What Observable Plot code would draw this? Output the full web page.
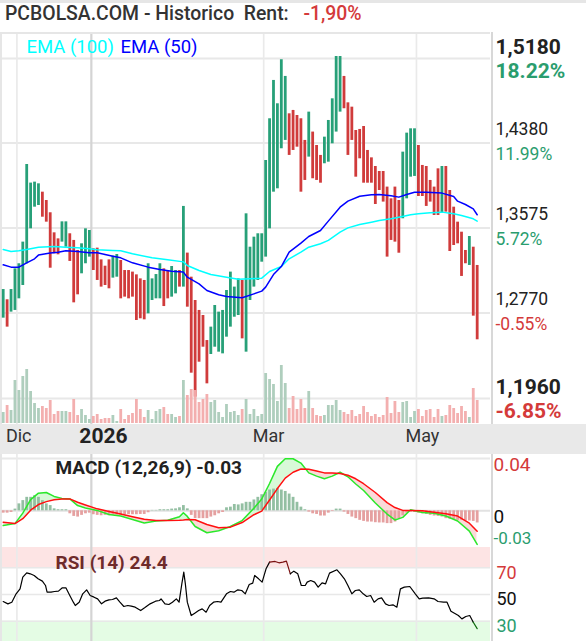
<!DOCTYPE html>
<html><head><meta charset="utf-8">
<script src="https://cdn.jsdelivr.net/npm/d3@7"></script>
<script src="https://cdn.jsdelivr.net/npm/@observablehq/plot@0.6"></script>
<style>
html,body{margin:0;padding:0;background:#fff;}
#root{position:relative;width:586px;height:641px;overflow:hidden;font-family:Roboto,sans-serif;background:#fff;}
#root svg{position:absolute;left:0;display:block;overflow:hidden;}
#title{position:absolute;left:5px;top:3px;font-size:19.4px;color:#333;white-space:pre;line-height:22px;font-weight:500;}
#title span{margin-left:5px;}
#topbar{position:absolute;left:0;top:0;width:586px;height:3px;background:#e6e6e6;}
</style></head><body><div id="root"><div id="topbar"></div><div id="title"></div></div>
<script>
// ---------- text ----------
const titleText = "PCBOLSA.COM - Historico  Rent:  ";
const rentText = "-1,90%";
const emaLabels = ["EMA (100)", "EMA (50)"];
const macdTitle = "MACD (12,26,9) -0.03";
const rsiTitle = "RSI (14) 24.4";

// ---------- price bars (one per session) ----------
const barHigh = [
1.2992,1.2895,1.2992,1.3188,1.3236,1.3441,1.4176,1.4000,1.4009,1.3993,
1.3914,1.3835,1.3719,1.3529,1.3472,1.3633,1.3633,1.3520,1.3457,1.3362,
1.3425,1.3567,1.3551,1.3378,1.3384,1.3273,1.3213,1.3273,1.3308,1.3324,
1.3267,1.3172,1.3172,1.3157,1.3131,1.3093,1.3078,1.3236,1.3093,1.3134,
1.3236,1.3188,1.3172,1.3210,1.3172,1.3172,1.3779,1.3337,1.3109,1.2888,
1.2794,1.2746,1.2509,1.2636,1.2841,1.2778,1.2794,1.2983,1.3157,1.3015,
1.3093,1.3078,1.3709,1.3393,1.3488,1.3520,1.3520,1.4214,1.4609,1.4972,
1.4751,1.5168,1.5010,1.4656,1.4688,1.4640,1.4609,1.4404,1.4672,1.4483,
1.4356,1.4262,1.4435,1.4593,1.4798,1.5199,1.5199,1.5010,1.4760,1.4719,
1.4498,1.4508,1.4536,1.4309,1.4239,1.4157,1.4110,1.4110,1.3962,1.3851,
1.3962,1.3835,1.4293,1.4473,1.4514,1.4514,1.4356,1.4167,1.4157,1.4025,
1.3962,1.4135,1.4157,1.4157,1.3930,1.3772,1.3630,1.3535,1.3362,1.3494,
1.3393,1.3220];
const barLow = [
1.2721,1.2636,1.2778,1.2794,1.2904,1.3030,1.3236,1.3567,1.3772,1.3788,
1.3677,1.3630,1.3194,1.3330,1.3321,1.3441,1.3393,1.3258,1.2866,1.2942,
1.3141,1.3236,1.3299,1.3172,1.3078,1.3015,1.3030,1.2999,1.3100,1.3109,
1.2904,1.2920,1.2904,1.2920,1.2699,1.2715,1.2705,1.2762,1.2888,1.2904,
1.2904,1.2831,1.2904,1.2920,1.2951,1.3015,1.3015,1.2825,1.2200,1.1973,
1.2304,1.2446,1.2099,1.2377,1.2446,1.2399,1.2383,1.2541,1.2636,1.2730,
1.2746,1.2525,1.2399,1.2888,1.3015,1.3078,1.3251,1.3299,1.3567,1.3914,
1.3946,1.4325,1.4404,1.4262,1.4309,1.4340,1.3914,1.4025,1.4246,1.4041,
1.4025,1.3999,1.4183,1.4198,1.4372,1.4483,1.4672,1.4704,1.4262,1.4404,
1.4056,1.4230,1.3999,1.3999,1.3999,1.3797,1.3930,1.3820,1.3299,1.3457,
1.3441,1.3336,1.3662,1.3851,1.4056,1.4063,1.3873,1.3873,1.3779,1.3820,
1.3693,1.3693,1.3715,1.3725,1.3352,1.3409,1.3425,1.3116,1.3236,1.3220,
1.2740,1.2516];
const barUp = [
1,0,1,1,1,1,1,1,1,1, 0,0,0,0,0,1,1,0,0,0, 1,1,1,0,0,0,0,0,1,1,
0,0,0,0,0,0,0,1,1,1, 1,0,0,1,1,0,1,0,0,0, 0,0,0,1,1,1,1,1,1,1,
1,0,1,1,1,1,1,1,1,1, 1,1,1,0,0,0,0,0,1,0, 0,0,1,1,1,1,1,0,0,0,
0,0,0,0,0,0,0,0,0,0, 0,0,1,1,1,1,0,0,0,0, 0,0,1,0,0,0,0,0,0,1,
0,0];
const volume = [
110,180,130,430,330,470,540,320,200,150, 170,150,230,90,120,120,120,110,240,80,
140,80,40,70,90,40,50,50,80,20, 140,40,80,100,240,140,60,130,40,120,
140,160,90,90,60,70,430,280,340,330, 210,240,290,210,230,110,60,190,110,120,
80,140,240,90,140,70,90,500,440,390, 220,580,400,150,270,140,240,150,320,150,
80,70,80,180,180,230,130,110,90,130, 70,90,170,110,70,90,60,80,260,100,
220,110,210,220,60,120,140,70,130,140, 60,140,70,80,180,150,100,170,120,60,
350,230];

// ---------- moving averages ----------
const ema100Idx = [0,2,4,6,9,13,16,19,22,24,28,30,33,38,42,46,47,50,53,57,60,66,68,71,73,76,78,81,83,86,88,91,94,96,99,101,104,106,109,112,115,117,120,121];
const ema100Val = [1.3371,1.3352,1.3359,1.3371,1.3393,1.3400,1.3393,1.3387,1.3378,1.3368,1.3362,1.3360,1.3330,1.3292,1.3273,1.3254,1.3220,1.3172,1.3134,1.3109,1.3090,1.3100,1.3163,1.3210,1.3283,1.3346,1.3393,1.3425,1.3457,1.3535,1.3576,1.3608,1.3630,1.3646,1.3662,1.3677,1.3700,1.3709,1.3718,1.3725,1.3709,1.3693,1.3662,1.3640];
const ema50Idx = [0,2,4,6,8,9,12,14,16,19,22,24,28,30,33,37,40,43,46,47,50,52,55,57,61,64,66,67,69,71,73,76,78,81,83,86,88,91,94,96,99,101,103,105,108,112,115,116,118,120,121];
const ema50Val = [1.3226,1.3204,1.3204,1.3245,1.3283,1.3318,1.3337,1.3346,1.3359,1.3352,1.3340,1.3340,1.3308,1.3292,1.3245,1.3204,1.3182,1.3166,1.3157,1.3109,1.3046,1.2983,1.2942,1.2926,1.2914,1.2951,1.2977,1.3015,1.3134,1.3210,1.3346,1.3431,1.3494,1.3551,1.3640,1.3772,1.3829,1.3876,1.3889,1.3892,1.3880,1.3867,1.3892,1.3914,1.3914,1.3905,1.3873,1.3829,1.3797,1.3756,1.3700];

// ---------- MACD ----------
const macdIdx = [0,3,5,7,9,11,13,15,17,19,21,24,27,30,33,36,39,42,45,46,47,49,52,55,58,61,64,66,68,70,72,74,76,78,80,82,84,86,88,90,92,95,98,100,102,104,107,110,113,116,119,121];
const macdVal = [-0.0113,-0.0098,-0.0018,0.0085,0.0135,0.0140,0.0110,0.0095,0.0091,0.0040,0.0022,0.0003,-0.0028,-0.0040,-0.0066,-0.0093,-0.0078,-0.0072,-0.0045,-0.0015,-0.0043,-0.0120,-0.0168,-0.0152,-0.0120,-0.0075,0.0020,0.0090,0.0209,0.0340,0.0398,0.0398,0.0365,0.0290,0.0265,0.0245,0.0265,0.0295,0.0260,0.0205,0.0155,0.0060,-0.0025,-0.0070,-0.0050,0.0008,-0.0013,-0.0018,-0.0040,-0.0078,-0.0155,-0.0257];
const signalVal = [-0.0088,-0.0098,-0.0060,0.0005,0.0048,0.0070,0.0085,0.0091,0.0091,0.0065,0.0045,0.0015,-0.0005,-0.0025,-0.0045,-0.0065,-0.0074,-0.0075,-0.0073,-0.0070,-0.0066,-0.0068,-0.0105,-0.0130,-0.0125,-0.0090,-0.0030,-0.0002,0.0083,0.0170,0.0250,0.0295,0.0320,0.0318,0.0305,0.0290,0.0289,0.0285,0.0272,0.0245,0.0207,0.0140,0.0063,0.0025,0.0003,0.0003,0.0000,-0.0012,-0.0023,-0.0040,-0.0095,-0.0156];
const macdHist = [
-0.0018,-0.0018,-0.0013,0.0013,0.0053,0.0078,0.0103,0.0103,0.0116,0.0103,
0.0078,0.0053,0.0040,0.0015,0.0008,0.0008,0.0008,-0.0023,-0.0043,-0.0048,
-0.0035,-0.0023,-0.0018,-0.0030,-0.0035,-0.0038,-0.0035,-0.0038,-0.0033,-0.0033,
-0.0033,-0.0030,-0.0030,-0.0030,-0.0030,-0.0028,-0.0028,-0.0015,0.0003,0.0003,
0.0008,0.0008,0.0008,0.0013,0.0015,0.0023,0.0040,0.0015,-0.0035,-0.0060,
-0.0060,-0.0060,-0.0060,-0.0048,-0.0038,-0.0023,-0.0013,0.0023,0.0028,0.0048,
0.0045,0.0053,0.0065,0.0065,0.0083,0.0103,0.0123,0.0141,0.0159,0.0166,
0.0171,0.0159,0.0148,0.0128,0.0103,0.0065,0.0028,0.0008,-0.0010,-0.0023,
-0.0028,-0.0040,-0.0040,-0.0018,-0.0005,0.0013,0.0013,-0.0010,-0.0028,-0.0048,
-0.0060,-0.0073,-0.0081,-0.0086,-0.0086,-0.0091,-0.0093,-0.0093,-0.0098,-0.0098,
-0.0086,-0.0060,-0.0038,-0.0018,-0.0010,-0.0013,-0.0018,-0.0023,-0.0028,-0.0035,
-0.0040,-0.0043,-0.0048,-0.0060,-0.0065,-0.0068,-0.0073,-0.0073,-0.0078,-0.0078,
-0.0081,-0.0093];

// ---------- RSI ----------
const rsiIdx = [0,1.2,2.2,3.3,4.3,5.0,6.0,6.9,7.9,8.9,10.0,10.8,11.2,12.2,13.1,14.1,15.1,16.0,17.0,17.9,18.4,19.4,20.3,21.3,22.2,23.2,24.1,25.1,26.0,27.0,27.9,28.9,29.8,30.8,31.8,32.7,33.7,35.1,36.1,37.5,38.9,39.9,40.3,41.3,42.3,43.2,44.2,44.9,45.6,46.1,46.5,47.0,48.0,48.9,49.9,50.8,51.8,52.7,53.7,54.7,55.6,57.0,58.0,58.9,59.9,60.9,61.8,62.8,63.7,64.2,65.2,66.1,67.1,68.0,69.4,70.4,71.4,72.3,73.3,74.2,75.2,76.1,77.1,77.6,78.5,79.5,80.4,81.4,82.3,83.3,85.2,86.1,87.1,88.0,89.0,89.9,90.9,91.9,92.8,93.8,94.7,95.7,96.6,97.6,98.5,99.5,100.5,101.4,102.4,103.8,105.2,106.2,107.1,108.6,110.0,111.0,112.4,113.3,114.3,115.2,116.2,117.1,118.1,119.1,120.0,121.0];
const rsiVal = [44.75,43,44.25,50.5,54.25,63,66.25,65.5,64.25,61.75,60,56.75,51.75,51.75,52.25,52.5,55,55,49.25,44.25,41.75,44.25,50.5,53.5,49.25,48,46.75,43,45,46,46.25,47.5,44.25,41,41.75,41.25,40.5,38,40,43,45,45.5,46.75,43,42.5,44.25,46.75,44.25,58,66.75,58,44.25,34.25,36,38,39.25,36.75,41.75,44.25,44.75,44.25,50.5,52.25,51.75,53.5,53,50.5,57.5,58.5,64.25,61.75,59.25,69.25,74.25,74.75,73.75,74.25,75,65.5,67.5,65.5,56.75,56.75,59.25,60.5,59.25,55.5,58.75,58,66,68.5,65.5,61.75,56.75,50.5,53,53.5,50.5,48.5,49.25,44.25,46.75,47.5,43,41.75,42.25,40.5,54.25,55.5,56,50.5,46.75,47.25,47.5,46.75,44.75,44.25,44.25,37.5,36,34.25,31.75,33.5,34.25,29.25,24.4];

// ---------- ticks ----------
const priceTicks = [1.518, 1.438, 1.3575, 1.277, 1.196];
const priceTickLabels = ["1,5180","1,4380","1,3575","1,2770","1,1960"];
const pctTickLabels = ["18.22%","11.99%","5.72%","-0.55%","-6.85%"];
const monthTicks = [3.5, 22.5, 66.5, 105.5];
const monthLabels = ["Dic","2026","Mar","May"];
const macdTicks = [0.04, 0, -0.03];
const macdTickLabels = ["0.04","0","-0.03"];
const rsiTicks = [70, 50, 30];
const rsiTickLabels = ["70","50","30"];

// ---------- colours ----------
const GREEN = "#27a078", RED = "#d03b3b";
const TXT_GREEN = "#2a9d6e", TXT_RED = "#d43a3a";
const GRID = "#e8e8e8";

// ---------- geometry ----------
const W = 586, MR = 96;
const X_DOMAIN = [-0.69, 124.4];
const FONT = "Roboto, sans-serif";

const root = document.getElementById("root");
const t = document.getElementById("title");
t.appendChild(document.createTextNode(titleText));
const rs = document.createElement("span"); rs.style.color = TXT_RED; rs.textContent = rentText; t.appendChild(rs);

function place(svg, top) {
  svg.style.position = "absolute"; svg.style.left = "0px"; svg.style.top = top + "px";
  root.appendChild(svg);
}

const bars = barHigh.map((h, i) => ({i, h, l: barLow[i], up: barUp[i] === 1, v: volume[i], hist: macdHist[i]}));
const months = monthTicks.map((x, k) => ({x, label: monthLabels[k], year: /^\d+$/.test(monthLabels[k])}));
const pticks = priceTicks.map((v, k) => ({v, p: priceTickLabels[k], pct: pctTickLabels[k], bold: k === 0 || k === priceTicks.length - 1, neg: pctTickLabels[k].startsWith("-")}));
const e100 = ema100Idx.map((x, k) => ({x, y: ema100Val[k]}));
const e50 = ema50Idx.map((x, k) => ({x, y: ema50Val[k]}));
const macdRows = macdIdx.map((x, k) => ({x, m: macdVal[k], s: signalVal[k]}));
const rsiRows = rsiIdx.map((x, k) => ({x, v: rsiVal[k]}));

function monthGrid() {
  return [
    Plot.ruleX(months.filter(d => !d.year), {x: "x", stroke: "#eaeaea", strokeWidth: 1.7}),
    Plot.ruleX(months.filter(d => d.year), {x: "x", stroke: "#d4d4d4", strokeWidth: 2.2})
  ];
}
function separator() {
  return [
    Plot.ruleX([X_DOMAIN[1]], {dx: 1.5, stroke: "#d8d8d8", strokeWidth: 2}),
    Plot.ruleX([X_DOMAIN[0]], {stroke: "#e6e6e6", strokeWidth: 3})
  ];
}

// ---------- main price panel ----------
const Y_MAIN = [1.1714, 1.5426];
const main = Plot.plot({
  width: W, height: 392, marginLeft: 0, marginRight: MR, marginTop: 0, marginBottom: 0,
  x: {domain: X_DOMAIN, axis: null},
  y: {domain: Y_MAIN, axis: null},
  style: {background: "#fff", fontFamily: FONT},
  marks: [
    Plot.ruleY(priceTicks, {stroke: GRID, strokeWidth: 2}),
    ...monthGrid(),
    ...separator(),
    Plot.ruleY([Y_MAIN[1]], {stroke: "#e6e6e6", strokeWidth: 3}),
    Plot.ruleX(bars, {x: "i", y1: "l", y2: "h", stroke: d => d.up ? GREEN : RED, strokeWidth: 2.8}),
    Plot.line(e100, {x: "x", y: "y", stroke: "#00ffff", strokeWidth: 1.5}),
    Plot.line(e50, {x: "x", y: "y", stroke: "#0000ff", strokeWidth: 1.5}),
    Plot.text([emaLabels[0]], {frameAnchor: "top-left", dx: 26, dy: 15, text: d => d, fill: "#00ffff", fontSize: 18.5, textAnchor: "start", lineAnchor: "middle"}),
    Plot.text([emaLabels[1]], {frameAnchor: "top-left", dx: 120, dy: 15, text: d => d, fill: "#0000ff", fontSize: 18.5, textAnchor: "start", lineAnchor: "middle"}),
    Plot.text(pticks.filter(d => d.bold), {y: "v", text: "p", frameAnchor: "right", textAnchor: "start", dx: 5, dy: -11, fontSize: 21, fontWeight: "bold", fill: "#222"}),
    Plot.text(pticks.filter(d => d.bold), {y: "v", text: "pct", frameAnchor: "right", textAnchor: "start", dx: 5, dy: 13, fontSize: 21, fontWeight: "bold", fill: d => d.neg ? TXT_RED : TXT_GREEN}),
    Plot.text(pticks.filter(d => !d.bold), {y: "v", text: "p", frameAnchor: "right", textAnchor: "start", dx: 5, dy: -14, fontSize: 17.5, fill: "#222"}),
    Plot.text(pticks.filter(d => !d.bold), {y: "v", text: "pct", frameAnchor: "right", textAnchor: "start", dx: 5, dy: 11, fontSize: 17.5, fill: d => d.neg ? TXT_RED : TXT_GREEN})
  ]
});
place(main, 32);

// ---------- volume overlay ----------
const vol = Plot.plot({
  width: W, height: 60, marginLeft: 0, marginRight: MR, marginTop: 0, marginBottom: 1,
  x: {domain: X_DOMAIN, axis: null},
  y: {domain: [0, 590], axis: null},
  style: {background: "transparent"},
  marks: [
    Plot.ruleX(bars, {x: "i", y1: 0, y2: "v", stroke: d => d.up ? "#abcbb9" : "#f2abab", strokeWidth: 2.8, strokeOpacity: 0.95})
  ]
});
place(vol, 364);

// ---------- date band ----------
const dates = Plot.plot({
  width: W, height: 30, marginLeft: 0, marginRight: MR, marginTop: 0, marginBottom: 0,
  x: {domain: X_DOMAIN, axis: null},
  y: {domain: [0, 1], axis: null},
  style: {background: "#e9e9e9", fontFamily: FONT},
  marks: [
    Plot.text(months.filter(d => !d.year), {x: "x", text: "label", frameAnchor: "middle", dy: -3, dx: -11, textAnchor: "start", fontSize: 18, fill: "#333"}),
    Plot.text(months.filter(d => d.year), {x: "x", text: "label", frameAnchor: "middle", dy: -3, dx: -12, textAnchor: "start", fontSize: 21, fontWeight: "bold", fill: "#222"})
  ]
});
place(dates, 424);

// ---------- MACD panel ----------
const Y_MACD = [-0.02807, 0.04306];
let fillMarks;
if (Plot.differenceY) {
  fillMarks = [Plot.differenceY(macdRows, {x: "x", y1: "s", y2: "m", positiveFill: "#d8f9d8", negativeFill: "#fbd9d9", positiveFillOpacity: 1, negativeFillOpacity: 1, stroke: "none"})];
} else {
  fillMarks = [
    Plot.areaY(macdRows, {x: "x", y1: "s", y2: d => Math.max(d.m, d.s), fill: "#d8f9d8"}),
    Plot.areaY(macdRows, {x: "x", y1: "s", y2: d => Math.min(d.m, d.s), fill: "#fbd9d9"})
  ];
}
const macdLabelRows = macdTicks.map((v, k) => ({v, label: macdTickLabels[k]}));
const macd = Plot.plot({
  width: W, height: 93, marginLeft: 0, marginRight: MR, marginTop: 0, marginBottom: 0,
  x: {domain: X_DOMAIN, axis: null},
  y: {domain: Y_MACD, axis: null},
  style: {background: "#fff", fontFamily: FONT},
  marks: [
    Plot.ruleY(macdTicks, {stroke: d => d === 0 ? "#e2e2e2" : GRID, strokeWidth: 2}),
    ...monthGrid(),
    ...separator(),
    ...fillMarks,
    Plot.ruleX(bars, {x: "i", y1: 0, y2: "hist", stroke: d => d.hist >= 0 ? "#93bfa2" : "#e5a0a0", strokeWidth: 2.8}),
    Plot.line(macdRows, {x: "x", y: "m", stroke: "#2be82b", strokeWidth: 1.5}),
    Plot.line(macdRows, {x: "x", y: "s", stroke: "#ff1010", strokeWidth: 1.5}),
    Plot.text([macdTitle], {frameAnchor: "top-left", dx: 55, dy: 13, text: d => d, fontSize: 19, fontWeight: "bold", fill: "#222", textAnchor: "start", lineAnchor: "middle"}),
    Plot.text(macdLabelRows.filter(d => d.v >= 0), {y: "v", text: "label", frameAnchor: "right", textAnchor: "start", dx: 3, dy: 6, fontSize: 19,
      fill: d => d.v > 0 ? TXT_RED : "#111"}),
    Plot.text(macdLabelRows.filter(d => d.v < 0), {y: "v", text: "label", frameAnchor: "right", textAnchor: "start", dx: 3, dy: -11, fontSize: 17, fill: TXT_GREEN})
  ]
});
place(macd, 454);

// ---------- RSI panel ----------
const Y_RSI = [14.8, 85.2];
const rsiBands = [{lo: 70, hi: Y_RSI[1], c: "#fde4e4"}, {lo: Y_RSI[0], hi: 30, c: "#e4fce4"}];
const rsiLabelRows = rsiTicks.map((v, k) => ({v, label: rsiTickLabels[k]}));
const rsi = Plot.plot({
  width: W, height: 94, marginLeft: 0, marginRight: MR, marginTop: 0, marginBottom: 0,
  x: {domain: X_DOMAIN, axis: null},
  y: {domain: Y_RSI, axis: null},
  style: {background: "#fff", fontFamily: FONT},
  marks: [
    Plot.rect(rsiBands, {x1: X_DOMAIN[0], x2: X_DOMAIN[1], y1: "lo", y2: "hi", fill: "c"}),
    Plot.ruleY(rsiTicks, {stroke: GRID, strokeWidth: 1.5}),
    ...monthGrid(),
    ...separator(),
    Plot.line(rsiRows, {x: "x", y: "v", z: null, stroke: d => d.v > 70 ? "#7a0f0f" : d.v < 30 ? "#0c6a0c" : "#000", strokeWidth: 1.2}),
    Plot.text([rsiTitle], {frameAnchor: "top-left", dx: 55, dy: 15, text: d => d, fontSize: 19, fontWeight: "bold", fill: "#6e2b2b", textAnchor: "start", lineAnchor: "middle"}),
    Plot.text(rsiLabelRows, {y: "v", text: "label", frameAnchor: "right", textAnchor: "start", dx: 6, dy: 5, fontSize: 18,
      fill: d => d.v > 50 ? TXT_RED : d.v < 50 ? TXT_GREEN : "#111"})
  ]
});
place(rsi, 547);
</script></body></html>
